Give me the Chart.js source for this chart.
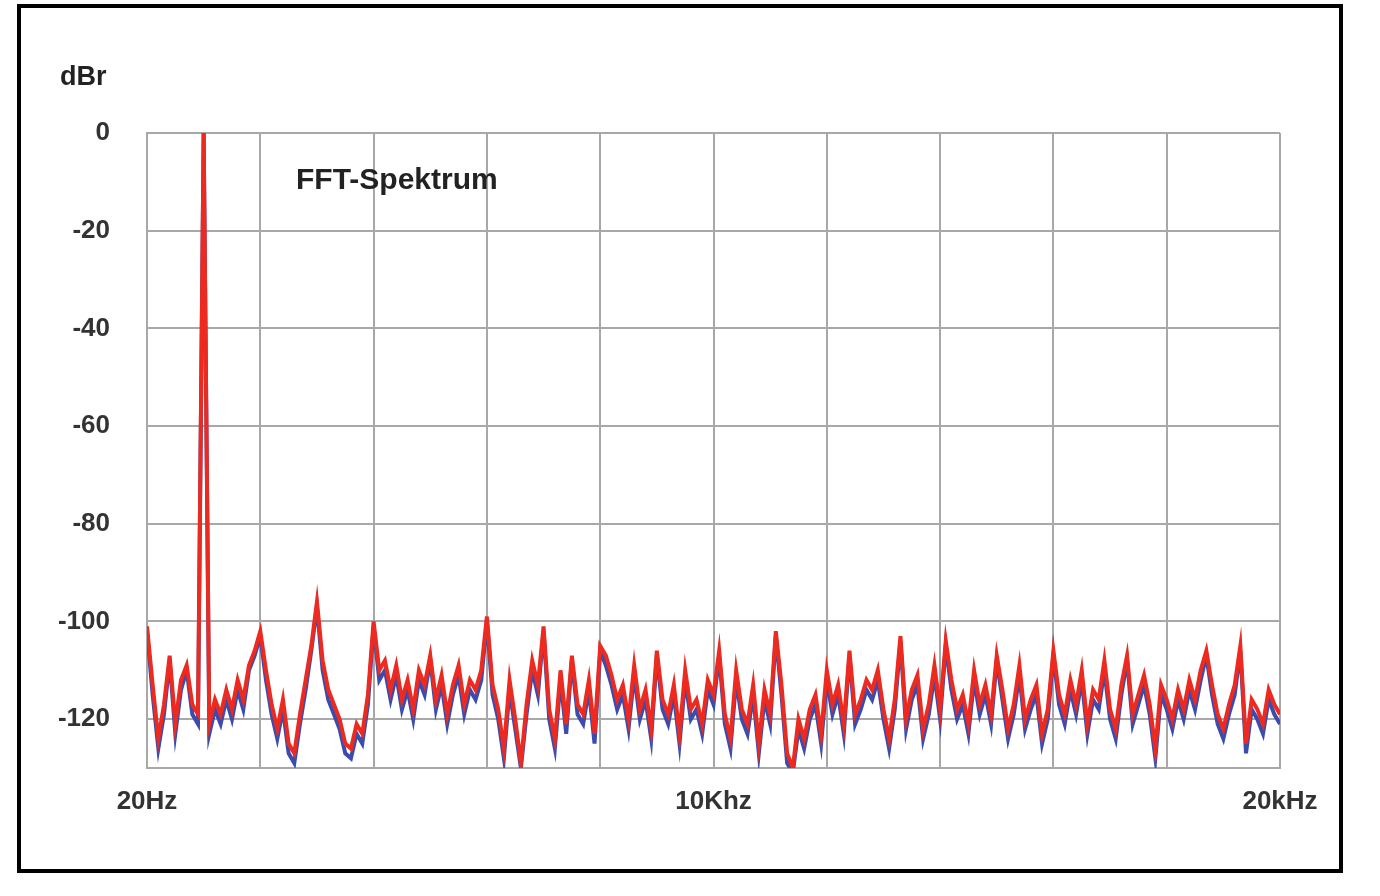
<!DOCTYPE html>
<html><head><meta charset="utf-8">
<script src="https://cdn.jsdelivr.net/npm/chart.js@4"></script>
<style>html,body{margin:0;padding:0;background:#fff}</style>
</head><body>
<canvas id="c" width="1380" height="896"></canvas>
<script>
const freqStepKHz = 0.1;
const yTicks = [0,-20,-40,-60,-80,-100,-120];
const xTickLabels = {0:'20Hz',10:'10Khz',20:'20kHz'};
const redDb = [
-101,-113,-124,-117,-107,-121,-112,-109,-117,-119,0,
-121,-116,-119,-114,-118,-112,-116,-109,-106,-102,
-110,-117,-122,-116,-125,-127,-119,-112,-105,-96,
-108,-114,-117,-120,-125,-126,-121,-123,-115,-100,
-110,-108,-114,-109,-116,-112,-118,-110,-113,-107,
-116,-111,-119,-113,-109,-117,-112,-114,-110,-99,
-113,-118,-126,-112,-120,-129,-117,-108,-113,-101,
-118,-124,-110,-121,-107,-117,-119,-112,-123,-105,
-107,-111,-116,-113,-120,-109,-118,-114,-122,-106,
-116,-119,-113,-123,-110,-118,-116,-121,-112,-115,
-106,-119,-124,-110,-118,-121,-113,-125,-114,-119,
-102,-113,-127,-130,-120,-124,-118,-115,-123,-110,
-117,-113,-121,-106,-119,-116,-112,-114,-110,-118,
-124,-116,-103,-120,-114,-111,-122,-117,-109,-118,
-104,-112,-118,-115,-121,-110,-117,-113,-119,-107,
-114,-122,-117,-109,-120,-116,-113,-123,-118,-106,
-115,-119,-112,-117,-110,-121,-114,-116,-108,-118,
-122,-113,-107,-119,-115,-111,-117,-126,-113,-116,
-120,-114,-118,-112,-116,-110,-106,-113,-119,-122,
-117,-113,-105,-125,-116,-118,-121,-114,-117,-119
];
const blueDb = [
-102,-115,-126,-119,-108,-123,-114,-110,-119,-121,0,
-123,-118,-121,-116,-120,-114,-118,-110,-107,-103,
-112,-119,-124,-118,-127,-129,-121,-114,-106,-97,
-110,-116,-119,-122,-127,-128,-123,-125,-117,-101,
-112,-110,-116,-111,-118,-114,-120,-112,-115,-108,
-118,-113,-121,-115,-111,-119,-114,-116,-112,-100,
-115,-120,-128,-114,-122,-130,-119,-110,-115,-102,
-120,-126,-112,-123,-108,-119,-121,-114,-125,-106,
-109,-113,-118,-115,-122,-111,-120,-116,-124,-107,
-118,-121,-115,-125,-112,-120,-118,-123,-114,-117,
-107,-121,-126,-112,-120,-123,-115,-127,-116,-121,
-103,-115,-129,-131,-122,-126,-120,-117,-125,-112,
-119,-115,-123,-107,-121,-118,-114,-116,-112,-120,
-126,-118,-104,-122,-116,-113,-124,-119,-111,-120,
-105,-114,-120,-117,-123,-112,-119,-115,-121,-108,
-116,-124,-119,-111,-122,-118,-115,-125,-120,-107,
-117,-121,-114,-119,-112,-123,-116,-118,-110,-120,
-124,-115,-108,-121,-117,-113,-119,-128,-115,-118,
-122,-116,-120,-114,-118,-112,-107,-115,-121,-124,
-119,-115,-106,-127,-118,-120,-123,-116,-119,-121
];
const freqKHz = redDb.map((_, i) => Math.round(i * freqStepKHz * 10) / 10);
const redData = redDb.map((v, i) => ({x: freqKHz[i], y: v}));
const blueData = blueDb.map((v, i) => ({x: freqKHz[i], y: v}));

const frame = {
  id: 'frame',
  afterDraw(chart) {
    const ctx = chart.ctx;
    ctx.save();
    ctx.strokeStyle = '#000'; ctx.lineWidth = 4;
    ctx.strokeRect(19, 6, 1322, 865);
    ctx.fillStyle = '#222';
    ctx.font = 'bold 27px "Liberation Sans", Arial, sans-serif';
    ctx.textAlign = 'left'; ctx.textBaseline = 'middle';
    ctx.fillText('dBr', 60, 78);
    ctx.font = 'bold 30px "Liberation Sans", Arial, sans-serif';
    ctx.fillText('FFT-Spektrum', 296, 181);
    ctx.restore();
  }
};

new Chart(document.getElementById('c'), {
  type: 'line',
  data: { datasets: [
    { data: redData, borderColor: '#ec2a1f', borderWidth: 4, pointRadius: 0, tension: 0 },
    { data: blueData, borderColor: '#3b4cae', borderWidth: 4, pointRadius: 0, tension: 0 }
  ]},
  options: {
    responsive: false, animation: false, devicePixelRatio: 1,
    layout: { padding: { top: 133, right: 100, left: 0, bottom: 0 } },
    plugins: { legend: { display: false }, tooltip: { enabled: false } },
    scales: {
      x: {
        type: 'linear', min: 0, max: 20,
        afterFit(s) { s.height = 128; },
        afterBuildTicks(s) { s.ticks = [0,2,4,6,8,10,12,14,16,18,20].map(v => ({value: v})); },
        grid: { color: '#a8a8a8', lineWidth: 2, drawTicks: false },
        border: { color: '#a8a8a8', width: 2 },
        ticks: { padding: 18, maxRotation: 0, autoSkip: false, color: '#333',
          font: { size: 26, weight: 'bold', family: '"Liberation Sans", Arial, sans-serif' },
          callback: v => xTickLabels[v] || '' }
      },
      y: {
        min: -130, max: 0,
        afterFit(s) { s.width = 147; },
        afterBuildTicks(s) { s.ticks = yTicks.map(v => ({value: v})); },
        grid: { color: '#a8a8a8', lineWidth: 2, drawTicks: false },
        border: { color: '#a8a8a8', width: 2 },
        ticks: { padding: 37, color: '#333',
          font: { size: 26, weight: 'bold', family: '"Liberation Sans", Arial, sans-serif' } }
      }
    }
  },
  plugins: [frame]
});
</script>
</body></html>
